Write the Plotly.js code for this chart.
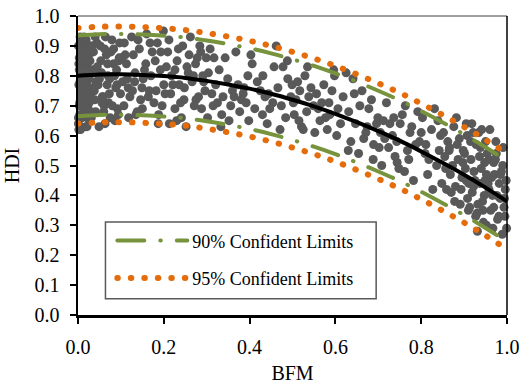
<!DOCTYPE html>
<html>
<head>
<meta charset="utf-8">
<script src="https://cdn.plot.ly/plotly-3.0.1.min.js"></script>
<style>
html,body{margin:0;padding:0;background:#fff;}
#chart{width:529px;height:384px;}
.scatterlayer .js-line, .legend .js-line {stroke-linecap: round !important;}
</style>
</head>
<body>
<div id="chart"></div>
<script>
const bfm = [
 0.004,0.017,0.001,0.026,0.009,0.013,0.021,0.003,0.029,0.011,
 0.007,0.024,0.015,0.002,0.019,0.028,0.006,0.012,0.022,0.010,
 0.018,0.003,0.025,0.008,0.014,0.030,0.005,0.020,0.011,0.027,
 0.001,0.016,0.023,0.009,0.004,0.013,0.026,0.007,0.019,0.002,
 0.012,0.021,0.006,0.028,0.015,0.003,0.010,0.024,0.017,0.008,
 0.005,0.014,0.022,0.001,0.018,0.025,0.009,0.029,0.002,0.013,
 0.034,0.071,0.052,0.088,0.041,0.096,0.063,0.047,0.079,0.058,
 0.066,0.038,0.092,0.055,0.083,0.044,0.074,0.099,0.031,0.061,
 0.049,0.085,0.036,0.069,0.057,0.094,0.042,0.077,0.064,0.090,
 0.080,0.053,0.039,0.097,0.068,0.045,0.086,0.060,0.073,0.033,
 0.050,0.075,0.091,0.040,0.062,0.083,0.056,0.037,0.095,0.070,
 0.113,0.247,0.168,0.291,0.135,0.209,0.182,0.262,0.104,0.226,
 0.155,0.278,0.121,0.199,0.236,0.143,0.271,0.187,0.108,0.254,
 0.177,0.129,0.218,0.296,0.160,0.241,0.115,0.203,0.284,0.149,
 0.231,0.192,0.266,0.138,0.212,0.102,0.173,0.257,0.125,0.288,
 0.164,0.244,0.117,0.196,0.274,0.152,0.230,0.185,0.299,0.133,
 0.221,0.146,0.259,0.107,0.206,0.281,0.170,0.239,0.127,0.193,
 0.252,0.140,0.216,0.180,0.293,0.118,0.234,0.158,0.269,0.200,
 0.110,0.188,0.275,0.226,0.150,0.248,0.132,0.213,0.166,0.286,
 0.312,0.447,0.368,0.489,0.335,0.406,0.381,0.462,0.304,0.425,
 0.356,0.478,0.321,0.398,0.436,0.343,0.471,0.387,0.308,0.454,
 0.377,0.329,0.418,0.496,0.360,0.441,0.315,0.403,0.484,0.349,
 0.431,0.392,0.466,0.338,0.412,0.302,0.373,0.457,0.325,0.488,
 0.364,0.444,0.317,0.396,0.474,0.352,0.430,0.385,0.499,0.333,
 0.512,0.647,0.568,0.689,0.535,0.606,0.581,0.662,0.504,0.625,
 0.556,0.678,0.521,0.598,0.636,0.543,0.671,0.587,0.508,0.654,
 0.577,0.529,0.618,0.696,0.560,0.641,0.515,0.603,0.684,0.549,
 0.631,0.592,0.666,0.538,0.612,0.502,0.573,0.657,0.525,0.688,
 0.564,0.644,0.517,0.596,0.674,0.552,0.630,0.585,0.699,0.533,
 0.712,0.796,0.748,0.831,0.724,0.778,0.763,0.815,0.705,0.842,
 0.739,0.824,0.719,0.771,0.803,0.733,0.848,0.787,0.708,0.756,
 0.782,0.727,0.809,0.743,0.836,0.768,0.715,0.800,0.751,0.827,
 0.792,0.761,0.845,0.736,0.818,0.702,0.774,0.839,0.744,0.811,
 0.862,0.947,0.903,0.981,0.876,0.925,0.958,0.891,0.996,0.938,
 0.911,0.969,0.855,0.934,0.987,0.898,0.952,0.919,0.975,0.868,
 0.943,0.882,0.999,0.916,0.964,0.907,0.859,0.930,0.990,0.950,
 0.873,0.960,0.922,0.984,0.895,0.940,0.978,0.866,0.913,0.956,
 0.993,0.886,0.928,0.971,0.852,0.945,0.901,0.966,0.918,0.998,
 0.880,0.936,0.974,0.908,0.962,0.889,0.989,0.923,0.949,0.870,
 0.954,0.893,0.982,0.932,0.865,0.915,0.969,0.905,0.994,0.941,
 0.927,0.976,0.884,0.952,0.991,0.910,0.937,0.857,0.967,0.897,
 0.985,0.944,0.921,0.878,0.958,0.931,0.995,0.905,0.973,0.948
];
const hdi = [
 0.71,0.88,0.64,0.79,0.92,0.67,0.83,0.86,0.73,0.76,
 0.81,0.69,0.91,0.77,0.74,0.85,0.62,0.89,0.66,0.70,
 0.63,0.82,0.87,0.75,0.68,0.90,0.93,0.78,0.84,0.65,
 0.90,0.72,0.80,0.86,0.67,0.79,0.71,0.73,0.92,0.84,
 0.75,0.63,0.88,0.68,0.84,0.70,0.66,0.89,0.77,0.80,
 0.78,0.93,0.74,0.66,0.69,0.82,0.85,0.76,0.62,0.87,
 0.82,0.71,0.90,0.76,0.68,0.86,0.64,0.77,0.92,0.73,
 0.87,0.75,0.69,0.81,0.84,0.91,0.79,0.74,0.66,0.70,
 0.63,0.80,0.88,0.84,0.73,0.67,0.78,0.88,0.93,0.82,
 0.70,0.85,0.72,0.91,0.77,0.83,0.65,0.68,0.74,0.90,
 0.79,0.66,0.77,0.93,0.89,0.89,0.71,0.81,0.85,0.80,
 0.84,0.72,0.91,0.80,0.67,0.88,0.75,0.93,0.78,0.69,
 0.82,0.86,0.73,0.95,0.77,0.89,0.70,0.64,0.91,0.83,
 0.71,0.87,0.80,0.75,0.94,0.66,0.79,0.74,0.90,0.76,
 0.85,0.82,0.78,0.68,0.92,0.86,0.88,0.81,0.93,0.69,
 0.73,0.90,0.76,0.70,0.84,0.79,0.65,0.91,0.86,0.81,
 0.77,0.72,0.87,0.70,0.83,0.73,0.80,0.71,0.75,0.88,
 0.63,0.92,0.74,0.85,0.78,0.66,0.89,0.84,0.80,0.77,
 0.87,0.67,0.72,0.82,0.69,0.76,0.78,0.64,0.75,0.88,
 0.74,0.69,0.88,0.79,0.67,0.84,0.72,0.90,0.81,0.75,
 0.70,0.83,0.77,0.65,0.73,0.86,0.62,0.76,0.89,0.71,
 0.68,0.82,0.78,0.73,0.75,0.64,0.70,0.87,0.66,0.79,
 0.80,0.71,0.76,0.73,0.69,0.66,0.77,0.83,0.71,0.85,
 0.73,0.74,0.86,0.80,0.70,0.65,0.67,0.74,0.77,0.63,
 0.78,0.64,0.71,0.57,0.83,0.69,0.62,0.75,0.67,0.81,
 0.74,0.69,0.63,0.80,0.58,0.76,0.61,0.67,0.72,0.54,
 0.66,0.80,0.73,0.64,0.69,0.79,0.65,0.60,0.72,0.70,
 0.68,0.75,0.59,0.73,0.64,0.71,0.77,0.70,0.62,0.52,
 0.65,0.74,0.75,0.82,0.63,0.61,0.55,0.71,0.66,0.68,
 0.65,0.58,0.49,0.69,0.56,0.63,0.70,0.47,0.61,0.55,
 0.53,0.62,0.71,0.52,0.66,0.60,0.44,0.57,0.50,0.67,
 0.45,0.64,0.54,0.58,0.50,0.55,0.59,0.61,0.64,0.42,
 0.68,0.48,0.60,0.66,0.52,0.56,0.61,0.65,0.51,0.57,
 0.58,0.40,0.49,0.33,0.63,0.45,0.52,0.37,0.42,0.56,
 0.44,0.36,0.53,0.61,0.48,0.55,0.30,0.41,0.54,0.47,
 0.38,0.66,0.29,0.52,0.46,0.60,0.42,0.34,0.50,0.58,
 0.50,0.62,0.43,0.39,0.46,0.49,0.32,0.56,0.36,0.44,
 0.36,0.52,0.57,0.47,0.61,0.31,0.54,0.40,0.64,0.45,
 0.43,0.53,0.58,0.39,0.35,0.59,0.27,0.48,0.45,0.41,
 0.54,0.42,0.44,0.37,0.55,0.58,0.51,0.45,0.39,0.62,
 0.33,0.40,0.57,0.47,0.56,0.35,0.44,0.49,0.29,0.51,
 0.47,0.35,0.61,0.38,0.42,0.28,0.33,0.64,0.52,0.51
];

// Fitted curve and confidence limits
const fitX  = [0,0.05,0.10,0.15,0.20,0.25,0.30,0.35,0.40,0.45,0.50,0.55,0.60,0.65,0.70,0.75,0.80,0.85,0.90,0.95,1.00];
const fitY  = [0.800,0.804,0.805,0.803,0.799,0.793,0.783,0.771,0.757,0.740,0.720,0.698,0.673,0.645,0.615,0.583,0.547,0.509,0.469,0.426,0.380];
const up90  = [0.935,0.939,0.940,0.938,0.934,0.928,0.918,0.906,0.892,0.875,0.855,0.833,0.808,0.780,0.750,0.718,0.682,0.644,0.604,0.561,0.515];
const lo90  = [0.665,0.669,0.670,0.668,0.664,0.658,0.648,0.636,0.622,0.605,0.585,0.563,0.538,0.510,0.480,0.448,0.412,0.374,0.334,0.291,0.245];
const up95  = [0.960,0.964,0.965,0.963,0.959,0.953,0.943,0.931,0.917,0.900,0.880,0.858,0.833,0.805,0.775,0.743,0.707,0.669,0.629,0.586,0.540];
const lo95  = [0.640,0.644,0.645,0.643,0.639,0.633,0.623,0.611,0.597,0.580,0.560,0.538,0.513,0.485,0.455,0.423,0.387,0.349,0.309,0.266,0.220];

const label90 = "90% Confident Limits";
const label95 = "95% Confident Limits";
const xTicks = [0,0.2,0.4,0.6,0.8,1.0];
const yTicks = [0,0.1,0.2,0.3,0.4,0.5,0.6,0.7,0.8,0.9,1.0];

const green = "#77933c";
const orange = "#e46c0a";
const font = "Liberation Serif";

const traces = [
  {x: bfm, y: hdi, mode: "markers", type: "scatter", showlegend: false, cliponaxis: false,
   marker: {size: 9, color: "#595959"}, hoverinfo: "skip"},
  {x: fitX, y: fitY, mode: "lines", type: "scatter", showlegend: false,
   line: {color: "#000", width: 4, shape: "spline"}},
  {x: fitX, y: up90, mode: "lines", type: "scatter", name: label90, legendgroup: "g90",
   line: {color: green, width: 4, dash: "27px,16px,0.5px,16px", shape: "spline"}},
  {x: fitX, y: lo90, mode: "lines", type: "scatter", name: label90, legendgroup: "g90", showlegend: false,
   line: {color: green, width: 4, dash: "27px,16px,0.5px,16px", shape: "spline"}},
  {x: fitX, y: up95, mode: "lines", type: "scatter", name: label95, legendgroup: "g95",
   line: {color: orange, width: 6, dash: "0.5px,13px", shape: "spline"}},
  {x: fitX, y: lo95, mode: "lines", type: "scatter", name: label95, legendgroup: "g95", showlegend: false,
   line: {color: orange, width: 6, dash: "0.5px,13px", shape: "spline"}}
];

const tickFont = {family: font, size: 20, color: "#000"};

const layout = {
  width: 529, height: 384,
  margin: {l: 78, r: 22, t: 16, b: 69},
  paper_bgcolor: "#fff", plot_bgcolor: "#fff",
  font: {family: font, size: 20, color: "#000"},
  showlegend: true,
  legend: {x: 0.08, y: 0.31, xanchor: "left", yanchor: "top",
           bgcolor: "rgba(0,0,0,0)", borderwidth: 0, itemwidth: 70,
           font: {family: font, size: 18, color: "#000"},
           tracegroupgap: 11, traceorder: "grouped"},
  xaxis: {range: [0, 1], tickvals: xTicks, tickformat: ".1f", showgrid: false, zeroline: false,
          showline: true, linecolor: "#000", linewidth: 2.5, tickfont: tickFont,
          ticks: "outside", ticklen: 6, tickwidth: 2, tickcolor: "#000", ticklabelstandoff: 6,
          title: {text: "BFM", font: {family: font, size: 20, color: "#000"}, standoff: 14}},
  yaxis: {range: [0, 1], tickvals: yTicks, tickformat: ".1f", showgrid: false, zeroline: false,
          showline: true, linecolor: "#000", linewidth: 2.5, tickfont: tickFont,
          ticks: "outside", ticklen: 6, tickwidth: 2, tickcolor: "#000", ticklabelstandoff: 6,
          title: {text: "HDI", font: {family: font, size: 20, color: "#000"}, standoff: 10}},
  shapes: [
    {type: "line", xref: "paper", yref: "paper", x0: 0, x1: 1, y0: 1, y1: 1, line: {color: "#404040", width: 1}},
    {type: "line", xref: "paper", yref: "paper", x0: 1, x1: 1, y0: 0, y1: 1, line: {color: "#000", width: 1.5}},
    {type: "rect", xref: "paper", yref: "paper", x0: 0.064, x1: 0.695, y0: 0.054, y1: 0.311,
     line: {color: "#595959", width: 1.5}, fillcolor: "#fff", layer: "above"}
  ]
};

Plotly.newPlot("chart", traces, layout, {displayModeBar: false, staticPlot: true});
</script>
</body>
</html>
